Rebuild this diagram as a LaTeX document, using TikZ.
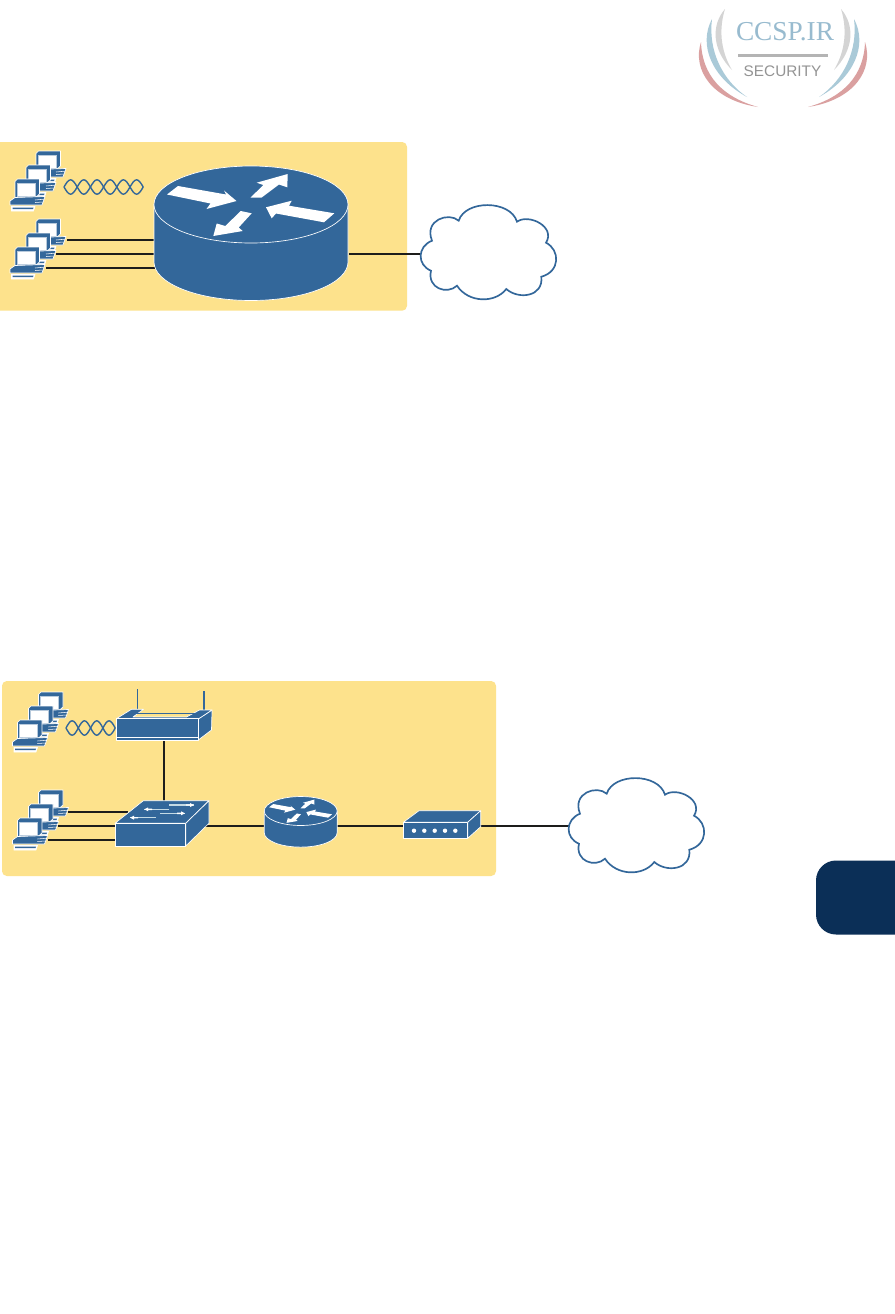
\documentclass[tikz,border=0pt]{standalone}
\usepackage{fontspec}
\setmainfont{Liberation Sans}
\newfontfamily\logoSerif{Liberation Serif}
\usetikzlibrary{calc}
\definecolor{devBlue}{RGB}{51,103,154}
\definecolor{siteYellow}{RGB}{253,226,140}
\definecolor{tabNavy}{RGB}{11,47,87}
\definecolor{linkBlack}{RGB}{29,29,27}
\definecolor{paleBlue}{RGB}{170,202,216}
\definecolor{paleRed}{RGB}{218,160,160}
\definecolor{paleGray}{RGB}{212,212,212}
\tikzset{
  sitebox/.style={fill=siteYellow,rounded corners=3.6pt},
  devbody/.style={fill=devBlue,draw=white,line width=0.5pt,line join=round},
  whitebit/.style={fill=white},
  linkline/.style={draw=linkBlack,line width=1.35pt},
  cloudline/.style={draw=devBlue,fill=white,line width=1.25pt},
  waveline/.style={draw=devBlue,line width=1.05pt}
}
\newcommand{\PCIcon}[2]{%
\begin{scope}[shift={(#1,#2)}]
  \draw[devbody] (0,2.5) -- (2.5,0) -- (24.5,0) -- (24.5,15) -- (20.5,18.5) -- (0,18.5) -- cycle;
  \draw[fill=white,draw=devBlue!35,line width=0.3pt] (2,4.5) rectangle (20,17);
  \draw[devbody] (-5,22) -- (0,18.5) -- (30,17.5) -- (28.5,22) -- (27,26) -- (-5,26) -- cycle;
  \draw[white,line width=0.4pt] (20,21) -- (29,20.2) (20,23.5) -- (28,23);
  \draw[fill=white,draw=white] (-3.5,27.5) -- (20,27.5) -- (18.5,32) -- (-3.5,32) -- cycle;
  \fill[devBlue] (-2.5,28.5) -- (18.5,28.5) -- (18,30) -- (-2.5,30) -- cycle;
\end{scope}}
\newcommand{\PCStack}[2]{%
\PCIcon{#1+21}{#2-28}
\PCIcon{#1+11}{#2-14}
\PCIcon{#1}{#2}}
\newcommand{\WaveLink}[4]{%
\foreach \side in {1,-1}{
  \draw[waveline] plot[smooth,samples=#3*8+1,domain=0:#3*#4] ({#1+\x},{#2+\side*7.2*sin(\x*180/#4)});
}}
\newcommand{\RouterIcon}[3]{%
\begin{scope}[shift={(#1,#2)},scale=#3]
  \draw[devbody] (-97,0) -- (-97,57.5) arc[start angle=180,end angle=0,x radius=97,y radius=38.5] -- (97,0) -- cycle;
  \draw[devbody] (0,0) ellipse[x radius=97,y radius=38.5];
  \fill[whitebit] (-84,-10) -- (-73,-18.5) -- (-25,-10) -- (-27,-14) -- (-14.5,-3.5) -- (-44.5,4.5) -- (-40.5,-1) -- cycle;
  \fill[whitebit] (-0.3,-7) -- (12.3,-19.5) -- (5.7,-21.8) -- (36.7,-30.5) -- (36.3,-17.2) -- (28,-20) -- (10.7,-7) -- cycle;
  \fill[whitebit] (-10.3,6.5) -- (0.7,8.8) -- (-12.3,23) -- (-8.3,26.5) -- (-37.7,31.5) -- (-34.3,19) -- (-25.7,21.5) -- cycle;
  \fill[whitebit] (83.3,8.8) -- (73,17.8) -- (25,9) -- (20.7,13.8) -- (15,2.8) -- (40.7,-3.8) -- (38,1.2) -- cycle;
\end{scope}}
\newcommand{\CloudIcon}[2]{%
\begin{scope}[shift={(#1,#2)}]
  \draw[cloudline] (37.7,15.7) .. controls (44.3,-5.3) and (89.3,-5.3) .. (96,16.7)
    .. controls (107.7,8.3) and (135,21.7) .. (125,37.7)
    .. controls (139.3,45) and (139.3,66.7) .. (120.3,71.7)
    .. controls (122.7,91.7) and (97.7,95) .. (85.3,84)
    .. controls (74.3,98.3) and (47.7,98.3) .. (36,80.7)
    .. controls (26,90) and (6,83.3) .. (10,65.7)
    .. controls (-4,60) and (-4,41.7) .. (11,35.7)
    .. controls (2.7,15) and (27.7,6.7) .. (37.7,15.7) -- cycle;
\end{scope}}
\newcommand{\SwitchArrow}[4]{%
\draw[paleBlue!70!white,line width=0.9pt] (#1,#3) -- (#2,#3);
\fill[whitebit] (#4,#3-0.7) -- (#4,#3+0.7) -- ($(#4,#3+0.7)!0.5!(#2,#3+0.7)$) -- ($(#4,#3+2)!0.5!(#2,#3+2)$) -- (#2,#3) -- ($(#4,#3-2)!0.5!(#2,#3-2)$) -- ($(#4,#3-0.7)!0.5!(#2,#3-0.7)$) -- cycle;}
\begin{document}
\begin{tikzpicture}[x=0.75pt,y=-0.75pt]
\useasboundingbox (0,0) rectangle (895,1314);
\fill[white] (0,0) rectangle (895,1314);
\fill[paleGray] (725,9) .. controls (711,25) and (712,50) .. (732,70) .. controls (720,50) and (719,28) .. (725,9) -- cycle;
\fill[paleBlue] (712,19) .. controls (698,45) and (712,78) .. (747,97) .. controls (722,80) and (708,50) .. (712,19) -- cycle;
\fill[paleRed] (701,42) .. controls (692,70) and (712,100) .. (758,107) .. controls (722,97) and (702,75) .. (701,42) -- cycle;
\fill[paleGray] (841,9) .. controls (855,25) and (854,50) .. (834,70) .. controls (846,50) and (847,28) .. (841,9) -- cycle;
\fill[paleBlue] (854,19) .. controls (868,45) and (854,78) .. (819,97) .. controls (844,80) and (858,50) .. (854,19) -- cycle;
\fill[paleRed] (865,42) .. controls (874,70) and (854,100) .. (808,107) .. controls (844,97) and (864,75) .. (865,42) -- cycle;
\node[text=paleBlue!85!devBlue,inner sep=0pt,font={\logoSerif\fontsize{20.5}{22}\selectfont}] (logoName) at (785,32) {CCSP.IR};
\fill[paleGray!85!black] (738,53.8) rectangle (828,56.6);
\node[text=black!42,inner sep=0pt,font={\fontsize{11.5}{13}\selectfont}] (logoSub) at (782.5,71) {SECURITY};
\fill[tabNavy] (895,860.5) -- (836,860.5) arc[start angle=270,end angle=180,radius=20] -- (816,914.5) arc[start angle=180,end angle=90,radius=20] -- (895,934.5) -- cycle;

\fill[sitebox] (-6,142) rectangle (407,310.7);
\fill[sitebox] (2,681) rectangle (496,876);

\coordinate (pcTopA) at (67,240);
\coordinate (pcTopB) at (56,254);
\coordinate (pcTopC) at (46,268);
\coordinate (routerBigA) at (155,240);
\coordinate (routerBigB) at (155,254);
\coordinate (routerBigC) at (155,268);
\coordinate (routerBigOut) at (349,254);
\coordinate (cloudTopIn) at (422,254);
\coordinate (pcLowA) at (68,811.7);
\coordinate (pcLowB) at (58,825.7);
\coordinate (pcLowC) at (48,839.7);
\coordinate (switchA) at (128,811.7);
\coordinate (switchB) at (116,825.7);
\coordinate (switchC) at (116,839.7);
\coordinate (switchOut) at (205,825.7);
\coordinate (switchUp) at (164,801);
\coordinate (apDown) at (164,740);
\coordinate (routerLowIn) at (264,825.7);
\coordinate (routerLowOut) at (337,825.7);
\coordinate (modemIn) at (404,825.7);
\coordinate (modemOut) at (480,825.7);
\coordinate (cloudLowIn) at (570,825.7);

\draw[linkline] (pcTopA) -- (routerBigA);
\draw[linkline] (pcTopB) -- (routerBigB);
\draw[linkline] (pcTopC) -- (routerBigC);
\draw[linkline] (routerBigOut) -- (cloudTopIn);
\draw[linkline] (pcLowA) -- (switchA);
\draw[linkline] (pcLowB) -- (switchB);
\draw[linkline] (pcLowC) -- (switchC);
\draw[linkline] (switchOut) -- (routerLowIn);
\draw[linkline] (apDown) -- (switchUp);
\draw[linkline] (routerLowOut) -- (modemIn);
\draw[linkline] (modemOut) -- (cloudLowIn);

\PCStack{15}{179}
\PCStack{15}{247}
\PCStack{17.5}{720}
\PCStack{17.5}{818}
\WaveLink{64}{187}{6}{13.2}
\WaveLink{66}{728}{4}{12.3}
\RouterIcon{251}{204.5}{1}
\RouterIcon{300.7}{811}{0.376}
\CloudIcon{421}{205}
\CloudIcon{569}{778}

\draw[devBlue,line width=0.9pt] (137.7,689) -- (137.7,709);
\draw[devBlue,line width=0.9pt] (204,691) -- (204,710);
\draw[devbody] (198.3,719) -- (212,710) -- (211.5,730) -- (198.3,740) -- cycle;
\draw[devbody] (116.7,718.5) -- (131.5,709.3) -- (143.5,709.3) -- (133,717) -- (186.5,717) -- (199.5,710) -- (212,710) -- (198.3,719) -- (116.7,719) -- cycle;
\draw[devBlue,line width=0.6pt] (131.5,713.3) -- (198,713.3);
\draw[devbody] (116.7,718.5) rectangle (198.3,740);
\draw[white,line width=0.5pt] (116.7,737) -- (198.3,737);

\draw[devbody] (115,823.3) -- (143.3,800.7) -- (209,800.7) -- (185.7,823.3) -- cycle;
\draw[devbody] (185.7,823.3) -- (209,800.7) -- (209,823.3) -- (185.7,846) -- cycle;
\draw[devbody] (115,823.3) rectangle (185.7,846);
\SwitchArrow{169}{194}{805}{186}
\SwitchArrow{169.3}{144.3}{809.3}{152}
\SwitchArrow{160}{185}{813.3}{177}
\SwitchArrow{155.7}{130}{817.7}{138}

\draw[devbody] (403.3,822.3) -- (419,810.7) -- (480.7,810.7) -- (467.7,822.3) -- cycle;
\draw[devbody] (467.7,822.3) -- (480.7,810.7) -- (480.7,826.7) -- (467.7,838.3) -- cycle;
\draw[devbody] (403.3,822.3) rectangle (467.7,838.3);
\foreach \dotx in {414,424.3,434.7,445,455.3}{
  \fill[whitebit] (\dotx,830.7) circle[radius=2.2];
}
\end{tikzpicture}
\end{document}
